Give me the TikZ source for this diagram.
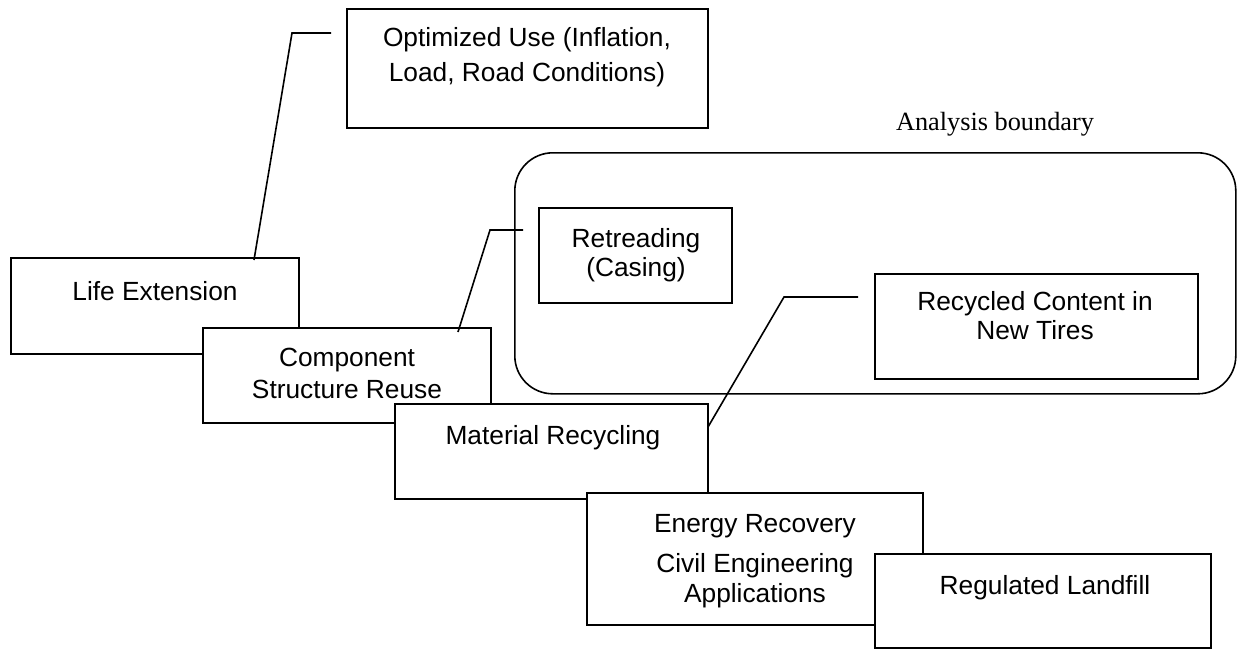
\documentclass[tikz,border=0pt]{standalone}
\usepackage{fontspec}
\setmainfont{Liberation Sans}
\newfontfamily\serifface{Liberation Serif}
\tikzset{
  box/.style={draw, fill=white, line width=1.6pt, inner sep=0pt, anchor=north west},
  lbl/.style={font=\fontsize{26.3}{32}\selectfont, inner sep=0pt, anchor=base},
  conn/.style={line width=1.6pt},
}
\begin{document}
\begin{tikzpicture}[x=1pt,y=-1pt]
\useasboundingbox (0,0) rectangle (1237,648);

% analysis boundary
\node[box, fill=none, rounded corners=38pt, minimum width=721pt, minimum height=241pt] (boundary) at (514,152) {};
\node[lbl, font=\serifface\fontsize{26.3}{32}\selectfont] (boundlbl) at (995,130) {Analysis boundary};

% Life Extension
\node[box, minimum width=288pt, minimum height=96pt] (life) at (10,257) {};
\node[lbl] (lifet) at (155,300) {Life Extension};

% Optimized use
\node[box, minimum width=361pt, minimum height=119pt] (opt) at (346,8) {};
\node[lbl] (optt1) at (527,46) {Optimized Use (Inflation,};
\node[lbl] (optt2) at (527,81) {Load, Road Conditions)};
\coordinate (c1a) at (331,33);
\coordinate (c1b) at (292,33);
\coordinate (c1c) at (254,260);
\draw[conn] (c1a) -- (c1b) -- (c1c);

% Component structure reuse
\node[box, minimum width=288pt, minimum height=95pt] (comp) at (202,327) {};
\node[lbl] (compt1) at (347,366) {Component};
\node[lbl] (compt2) at (347,398) {Structure Reuse};

% Retreading
\node[box, minimum width=193pt, minimum height=95pt] (retr) at (538,207) {};
\node[lbl] (retrt1) at (636,247) {Retreading};
\node[lbl] (retrt2) at (636,276) {(Casing)};
\coordinate (c2a) at (458,332);
\coordinate (c2b) at (490,230);
\coordinate (c2c) at (523,230);
\draw[conn] (c2a) -- (c2b) -- (c2c);

% Recycled content
\node[box, minimum width=323pt, minimum height=105pt] (recy) at (874,273) {};
\node[lbl] (recyt1) at (1035,310) {Recycled Content in};
\node[lbl] (recyt2) at (1035,339) {New Tires};

% Material recycling
\node[box, minimum width=313pt, minimum height=95pt] (mat) at (394,403) {};
\node[lbl] (matt) at (553,444) {Material Recycling};
\coordinate (c3a) at (708,427);
\coordinate (c3b) at (784,297);
\coordinate (c3c) at (858,297);
\draw[conn] (c3a) -- (c3b) -- (c3c);

% Energy recovery
\node[box, minimum width=336pt, minimum height=132pt] (ener) at (586,492) {};
\node[lbl] (enert1) at (755,532) {Energy Recovery};
\node[lbl] (enert2) at (755,572) {Civil Engineering};
\node[lbl] (enert3) at (755,602) {Applications};

% Regulated landfill
\node[box, minimum width=336pt, minimum height=94pt] (land) at (874,553) {};
\node[lbl] (landt) at (1045,594) {Regulated Landfill};
\end{tikzpicture}
\end{document}
